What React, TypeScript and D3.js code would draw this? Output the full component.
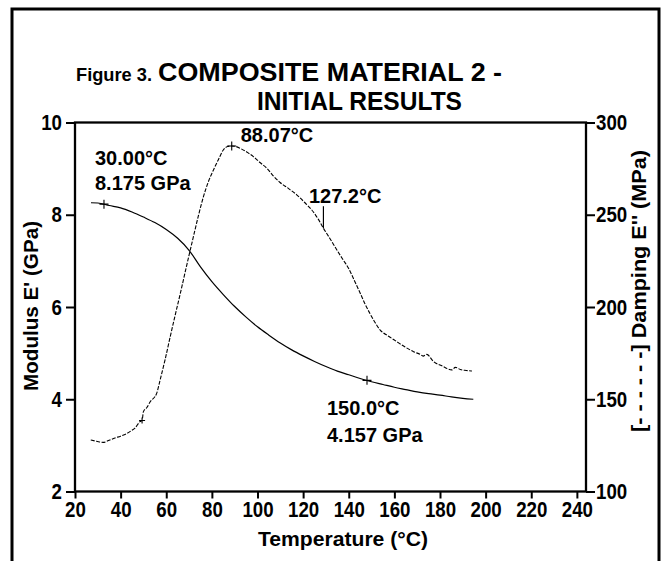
import { useEffect, useRef } from "react";
import * as d3 from "d3";

// Storage modulus E' (solid line), GPa
const modulusTemp = [27, 30, 35, 40, 45, 50, 55, 60, 65, 70, 75, 80, 85, 90, 95, 100, 105, 110, 115, 120, 125, 130, 135, 140, 145, 150, 155, 160, 165, 170, 175, 180, 185, 190, 194.6];
const modulusGPa = [8.26, 8.255, 8.2, 8.15, 8.06, 7.95, 7.83, 7.68, 7.49, 7.23, 6.87, 6.55, 6.27, 6.01, 5.78, 5.57, 5.39, 5.22, 5.07, 4.94, 4.82, 4.71, 4.61, 4.53, 4.45, 4.38, 4.32, 4.26, 4.21, 4.16, 4.12, 4.09, 4.05, 4.02, 4.0];

// Loss modulus / damping E'' (dashed line), MPa
const dampingTemp = [26.9, 29.5, 32.3, 35, 37.5, 40, 42.7, 44.5, 46.3, 48.5, 49.4, 50.0, 51.5, 52.9, 55.8, 57.3, 59.5, 61.7, 63.9, 66.1, 69.1, 71.9, 74.1, 76.3, 78.5, 80.7, 82.9, 85.0, 86.9, 88.7, 90.5, 92.4, 95.3, 98.2, 101.1, 104.1, 107.0, 109.9, 113.5, 117.2, 120.8, 124.5, 126.7, 128.9, 131.8, 134.8, 137.3, 139.9, 142.6, 145.2, 147.2, 149.4, 151.6, 153.8, 157.3, 161.1, 164.7, 168.4, 171.3, 172.6, 174.2, 177.2, 181.0, 185.2, 186.7, 188.9, 191.5, 194.0];
const dampingMPa = [127.9, 127.2, 126.6, 127.8, 129.0, 130.0, 131.4, 132.8, 134.4, 137.9, 138.5, 143.3, 145.5, 148.5, 153.2, 160.4, 171.5, 183.7, 195.5, 207.0, 223.3, 238.1, 249.5, 259.8, 268.0, 274.3, 280.0, 285.1, 287.0, 287.3, 287.0, 286.0, 284.0, 281.5, 278.3, 275.2, 271.0, 267.5, 264.3, 260.8, 256.5, 251.5, 247.5, 242.7, 237.0, 230.9, 226.0, 221.0, 214.0, 207.0, 201.5, 196.2, 191.5, 187.5, 184.3, 181.2, 178.3, 175.8, 174.3, 173.4, 174.3, 170.4, 168.0, 165.9, 167.3, 166.1, 165.6, 165.3];

// axis ticks
const tempTicks = [20, 40, 60, 80, 100, 120, 140, 160, 180, 200, 220, 240];
const modulusTicks = [2, 4, 6, 8, 10];
const dampingTicks = [100, 150, 200, 250, 300];

// "+" marks on the curves
const modulusMarks = [
	{ t: 32.7, v: 8.23 },
	{ t: 148, v: 4.41 },
];
const dampingMarks = [
	{ t: 88.7, v: 287.3, size: 4.5 },
	{ t: 49.4, v: 138.5, size: 3 },
];
const onsetMark = { t: 128.9, v: 242.7 };

const FONT = "'Liberation Sans', Arial, Helvetica, sans-serif";

export default function App() {
	const ref = useRef<SVGSVGElement>(null);
	const width = 665;
	const height = 561;

	useEffect(() => {
		const svg = d3.select(ref.current);
		svg.selectAll("*").remove();

		const margin = { top: 122.5, right: 79, bottom: 69.5, left: 75 };
		const x0 = margin.left;
		const x1 = width - margin.right;
		const y0 = height - margin.bottom;
		const y1 = margin.top;

		const x = d3.scaleLinear().domain([20, 244]).range([x0, x1]);
		const yL = d3.scaleLinear().domain([2, 10]).range([y0, y1]);
		const yR = d3.scaleLinear().domain([100, 300]).range([y0, y1]);

		svg.append("rect").attr("width", width).attr("height", height).attr("fill", "#fff");

		// outer frame (open at the bottom, runs off the page)
		svg
			.append("rect")
			.attr("x", 12)
			.attr("y", 9)
			.attr("width", 647)
			.attr("height", 600)
			.attr("fill", "none")
			.attr("stroke", "#000")
			.attr("stroke-width", 3);

		// title
		const title = svg.append("g").attr("font-family", FONT).attr("font-weight", "bold").attr("fill", "#000");
		title.append("text").attr("x", 76).attr("y", 81).attr("font-size", 19).attr("textLength", 76).attr("lengthAdjust", "spacingAndGlyphs").text("Figure 3.");
		title.append("text").attr("x", 158).attr("y", 81).attr("font-size", 25).attr("textLength", 344).attr("lengthAdjust", "spacingAndGlyphs").text("COMPOSITE MATERIAL 2 -");
		title.append("text").attr("x", 257).attr("y", 110).attr("font-size", 25).attr("textLength", 205).attr("lengthAdjust", "spacingAndGlyphs").text("INITIAL RESULTS");

		// axes
		const styleAxis = (g, charLen = 10.4) => {
			g.select(".domain").remove();
			g.attr("font-family", FONT).attr("font-size", 22).attr("font-weight", "bold");
			g.selectAll("line").attr("stroke", "#000").attr("stroke-width", 2);
			g.selectAll("text")
				.attr("fill", "#000")
				.attr("textLength", (d) => String(d).length * charLen)
				.attr("lengthAdjust", "spacingAndGlyphs");
		};

		svg
			.append("g")
			.attr("transform", `translate(0,${y0})`)
			.call(d3.axisBottom(x).tickValues(tempTicks).tickSize(7).tickSizeOuter(0).tickPadding(3))
			.call(styleAxis);

		svg
			.append("g")
			.attr("transform", `translate(${x0},0)`)
			.call(d3.axisLeft(yL).tickValues(modulusTicks).tickSize(9).tickSizeOuter(0).tickPadding(4))
			.call(styleAxis);

		svg
			.append("g")
			.attr("transform", `translate(${x1},0)`)
			.call(d3.axisRight(yR).tickValues(dampingTicks).tickSize(9).tickSizeOuter(0).tickPadding(1))
			.call(styleAxis);

		// plot box
		svg
			.append("rect")
			.attr("x", x0)
			.attr("y", y1)
			.attr("width", x1 - x0)
			.attr("height", y0 - y1)
			.attr("fill", "none")
			.attr("stroke", "#000")
			.attr("stroke-width", 2.3);

		// axis titles
		const titles = svg.append("g").attr("font-family", FONT).attr("font-weight", "bold").attr("fill", "#000");
		titles
			.append("text")
			.attr("transform", "translate(38,306) rotate(-90)")
			.attr("text-anchor", "middle")
			.attr("font-size", 20)
			.attr("textLength", 170)
			.attr("lengthAdjust", "spacingAndGlyphs")
			.text("Modulus E' (GPa)");
		titles
			.append("text")
			.attr("x", 343)
			.attr("y", 546)
			.attr("text-anchor", "middle")
			.attr("font-size", 21)
			.attr("textLength", 170)
			.attr("lengthAdjust", "spacingAndGlyphs")
			.text("Temperature (°C)");
		titles
			.append("text")
			.attr("transform", "translate(646,291) rotate(-90)")
			.attr("text-anchor", "middle")
			.attr("font-size", 21)
			.attr("textLength", 282)
			.attr("lengthAdjust", "spacingAndGlyphs")
			.text("[- - - - - -] Damping E'' (MPa)");

		// curves
		const modulusLine = d3
			.line<number>()
			.x((d, i) => x(modulusTemp[i]))
			.y((d) => yL(d))
			.curve(d3.curveMonotoneX);
		svg.append("path").attr("d", modulusLine(modulusGPa)).attr("fill", "none").attr("stroke", "#000").attr("stroke-width", 1.2);

		const dampingLine = d3
			.line<number>()
			.x((d, i) => x(dampingTemp[i]))
			.y((d) => yR(d))
			.curve(d3.curveMonotoneX);
		svg
			.append("path")
			.attr("d", dampingLine(dampingMPa))
			.attr("fill", "none")
			.attr("stroke", "#000")
			.attr("stroke-width", 1.1)
			.attr("stroke-dasharray", "4,1.5");

		// + marks
		const cross = (cx, cy, s) => {
			svg.append("path").attr("d", `M${cx - s},${cy}H${cx + s}M${cx},${cy - s}V${cy + s}`).attr("stroke", "#000").attr("stroke-width", 1.1);
		};
		modulusMarks.forEach((m) => cross(x(m.t), yL(m.v), 4.5));
		dampingMarks.forEach((m) => cross(x(m.t), yR(m.v), m.size));

		// onset tick line
		svg
			.append("line")
			.attr("x1", x(onsetMark.t))
			.attr("x2", x(onsetMark.t))
			.attr("y1", yR(onsetMark.v))
			.attr("y2", yR(onsetMark.v) - 22)
			.attr("stroke", "#000")
			.attr("stroke-width", 1.2);

		// annotations
		const notes = svg.append("g").attr("font-family", FONT).attr("font-weight", "bold").attr("font-size", 20).attr("fill", "#000");
		const note = (px, py, txt) => notes.append("text").attr("x", px).attr("y", py).text(txt);

		const m30 = modulusMarks[0];
		note(x(m30.t) - 9, yL(m30.v) - 39, "30.00°C");
		note(x(m30.t) - 9, yL(m30.v) - 14, "8.175 GPa");

		const peak = dampingMarks[0];
		note(x(peak.t) + 9, yR(peak.v) - 4, "88.07°C");

		note(x(onsetMark.t) - 14.5, yR(onsetMark.v) - 25.5, "127.2°C");

		const m150 = modulusMarks[1];
		note(x(m150.t) - 40, yL(m150.v) + 35, "150.0°C");
		note(x(m150.t) - 40, yL(m150.v) + 61.5, "4.157 GPa");
	}, []);

	return (
		<svg
			ref={ref}
			width={width}
			height={height}
			style={{ position: "absolute", left: 0, top: 0, display: "block" }}
		/>
	);
}
